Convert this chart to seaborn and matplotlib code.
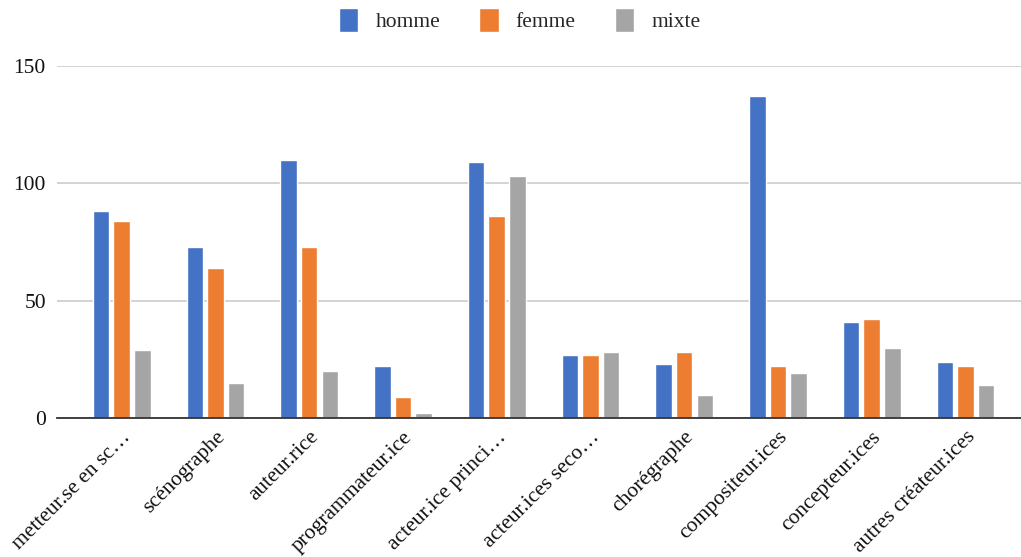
import matplotlib
matplotlib.use("Agg")
import matplotlib.pyplot as plt
import seaborn as sns
import pandas as pd

categories = ["metteur.se en sc…", "scénographe", "auteur.rice", "programmateur.ice",
              "acteur.ice princi…", "acteur.ices seco…", "chorégraphe",
              "compositeur.ices", "concepteur.ices", "autres créateur.ices"]
homme = [88, 73, 110, 22, 109, 27, 23, 137, 41, 24]
femme = [84, 64, 73, 9, 86, 27, 28, 22, 42, 22]
mixte = [29, 15, 20, 2, 103, 28, 10, 19, 30, 14]
series = ["homme", "femme", "mixte"]
colors = ["#4472C4", "#ED7D31", "#A5A5A5"]
yticks = [0, 50, 100, 150]

df = pd.DataFrame({"cat": categories * 3,
                   "genre": [s for s in series for _ in categories],
                   "n": homme + femme + mixte})

sns.set_style("white")
plt.rcParams["font.family"] = ["Liberation Serif", "DejaVu Serif"]

fig = plt.figure(figsize=(10.21, 5.57), dpi=100)
ax = fig.add_axes([0.0558, 0.2496, 0.944, 0.632])

sns.barplot(data=df, x="cat", y="n", hue="genre", palette=colors,
            width=0.66, gap=0.2, saturation=1, ax=ax, legend=True)

ax.set_ylim(0, 150)
ax.set_xlim(-0.69, 9.59)
ax.set_yticks(yticks)
ax.yaxis.grid(True, color="#cccccc", linewidth=1.2)
ax.set_axisbelow(True)
for s in ["left", "right", "top"]:
    ax.spines[s].set_visible(False)
ax.spines["bottom"].set_color("#333333")
ax.spines["bottom"].set_linewidth(1.3)
ax.spines["bottom"].set_zorder(5)
ax.tick_params(axis="both", length=0, labelsize=15.5, colors="#111111")
ax.tick_params(axis="y", pad=8)
ax.tick_params(axis="x", pad=7)
ax.set_xlabel("")
ax.set_ylabel("")
plt.setp(ax.get_xticklabels(), rotation=45, ha="right", rotation_mode="anchor")

handles, labels = ax.get_legend_handles_labels()
ax.get_legend().remove()
fig.legend(handles, labels, loc="upper center", bbox_to_anchor=(0.509, 1.012),
           ncol=3, frameon=False, fontsize=15.5, handlelength=0.9, handleheight=1.3,
           handletextpad=0.8, columnspacing=1.8, borderpad=0.2)

fig.savefig("out.png", dpi=100)
